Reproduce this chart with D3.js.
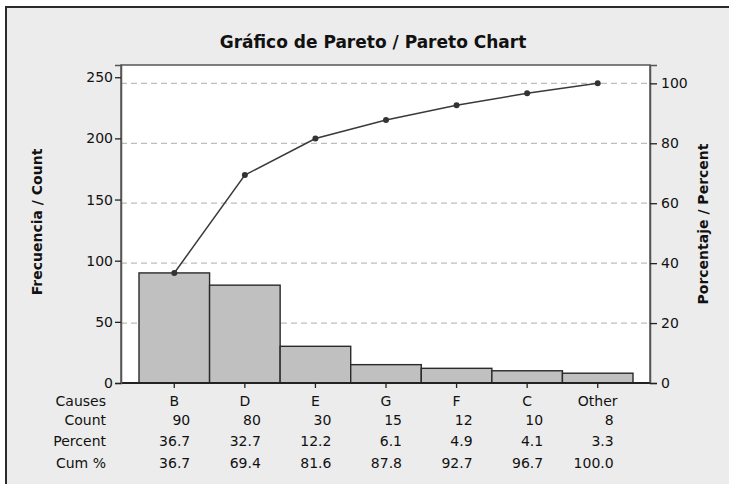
<!DOCTYPE html>
<html><head><meta charset="utf-8">
<script src="https://cdn.jsdelivr.net/npm/d3@7"></script>
<style>
body{margin:0;background:#fff;}
svg{display:block;font-family:"DejaVu Sans",Verdana,sans-serif;}
</style></head>
<body><svg id="c" width="729" height="484"></svg>
<script>
const causes = ["B","D","E","G","F","C","Other"];
const counts = [90,80,30,15,12,10,8];
const percents = ["36.7","32.7","12.2","6.1","4.9","4.1","3.3"];
const cumPercents = [36.7,69.4,81.6,87.8,92.7,96.7,100.0];
const leftTicks = [0,50,100,150,200,250];
const rightTicks = [0,20,40,60,80,100];
const rowLabels = ["Causes","Count","Percent","Cum %"];

const svg = d3.select("#c");
const W = 729, H = 484;
const plot = {left:121, right:650, top:65, bottom:383};
const total = d3.sum(counts);

// frame
svg.append("rect").attr("x",6).attr("y",7).attr("width",W+10).attr("height",H+10)
  .attr("fill","#ececec").attr("stroke","#2a2a2a").attr("stroke-width",2);

svg.append("text").attr("x",373).attr("y",48).attr("text-anchor","middle")
  .attr("font-weight","bold").attr("font-size",17).attr("fill","#111")
  .text("Gráfico de Pareto / Pareto Chart");

// plot background
svg.append("rect").attr("x",plot.left).attr("y",plot.top)
  .attr("width",plot.right-plot.left).attr("height",plot.bottom-plot.top).attr("fill","#fff");

const x = d3.scaleBand().domain(causes).range([139,633]).paddingInner(0).paddingOuter(0);
const yL = d3.scaleLinear().domain([0,260]).range([plot.bottom,plot.top]);
const yR = d3.scaleLinear().domain([0,260/total*100]).range([plot.bottom,plot.top]);

// gridlines
svg.append("g").selectAll("line").data(rightTicks.filter(d=>d>0)).join("line")
  .attr("x1",plot.left).attr("x2",plot.right)
  .attr("y1",d=>yR(d)).attr("y2",d=>yR(d))
  .attr("stroke","#bdbdbd").attr("stroke-width",1.2).attr("stroke-dasharray","6,4");

// bars
svg.append("g").selectAll("rect").data(counts).join("rect")
  .attr("x",(d,i)=>x(causes[i])).attr("width",x.bandwidth())
  .attr("y",d=>yL(d)).attr("height",d=>yL(0)-yL(d))
  .attr("fill","#c0c0c0").attr("stroke","#2a2a2a").attr("stroke-width",1.4);

// plot border
svg.append("rect").attr("x",plot.left).attr("y",plot.top)
  .attr("width",plot.right-plot.left).attr("height",plot.bottom-plot.top)
  .attr("fill","none").attr("stroke","#555").attr("stroke-width",1.5);
svg.append("line").attr("x1",plot.left).attr("x2",plot.right).attr("y1",plot.bottom).attr("y2",plot.bottom)
  .attr("stroke","#222").attr("stroke-width",2);

// cumulative line
const cx = (d,i)=>x(causes[i])+x.bandwidth()/2;
svg.append("path").datum(cumPercents)
  .attr("d",d3.line().x(cx).y(d=>yR(d)))
  .attr("fill","none").attr("stroke","#3a3a3a").attr("stroke-width",1.5);
svg.append("g").selectAll("circle").data(cumPercents).join("circle")
  .attr("cx",cx).attr("cy",d=>yR(d)).attr("r",3).attr("fill","#333");

// axes
const axL = svg.append("g").attr("transform",`translate(${plot.left},0)`)
  .call(d3.axisLeft(yL).tickValues(leftTicks).tickSize(6).tickPadding(2));
const axR = svg.append("g").attr("transform",`translate(${plot.right},0)`)
  .call(d3.axisRight(yR).tickValues(rightTicks).tickSize(7).tickPadding(4));
const axB = svg.append("g").attr("transform",`translate(0,${plot.bottom})`)
  .call(d3.axisBottom(x).tickSize(5).tickFormat(""));
[axL,axR,axB].forEach(a=>{
  a.select(".domain").attr("stroke","#555").attr("stroke-width",1.5);
  a.selectAll(".tick line").attr("stroke","#222").attr("stroke-width",1.3);
  a.selectAll("text").attr("font-size",14).attr("fill","#111").attr("font-family","DejaVu Sans, Verdana, sans-serif");
});
axB.select(".domain").remove();

// axis titles
svg.append("text").attr("transform","translate(42,222) rotate(-90)").attr("text-anchor","middle")
  .attr("font-weight","bold").attr("font-size",14).attr("fill","#111").text("Frecuencia / Count");
svg.append("text").attr("transform","translate(708,224) rotate(-90)").attr("text-anchor","middle")
  .attr("font-weight","bold").attr("font-size",14).attr("fill","#111").text("Porcentaje / Percent");

// table
const rowY = [401,420,441,463];
const tbl = svg.append("g").attr("font-size",14).attr("fill","#111");
tbl.selectAll("text.rl").data(rowLabels).join("text").attr("class","rl")
  .attr("x",106).attr("y",(d,i)=>rowY[i]).attr("dy","0.35em").attr("text-anchor","end").text(d=>d);
tbl.selectAll("text.cat").data(causes).join("text").attr("class","cat")
  .attr("x",d=>x(d)+x.bandwidth()/2).attr("y",rowY[0]).attr("dy","0.35em").attr("text-anchor","middle").text(d=>d);
const numRows = [counts.map(String), percents, cumPercents.map(d=>d.toFixed(1))];
numRows.forEach((row,r)=>{
  tbl.selectAll("text.r"+r).data(row).join("text").attr("class","r"+r)
    .attr("x",(d,i)=>x(causes[i])+x.bandwidth()/2+16).attr("y",rowY[r+1]).attr("dy","0.35em")
    .attr("text-anchor","end").text(d=>d);
});
</script></body></html>
